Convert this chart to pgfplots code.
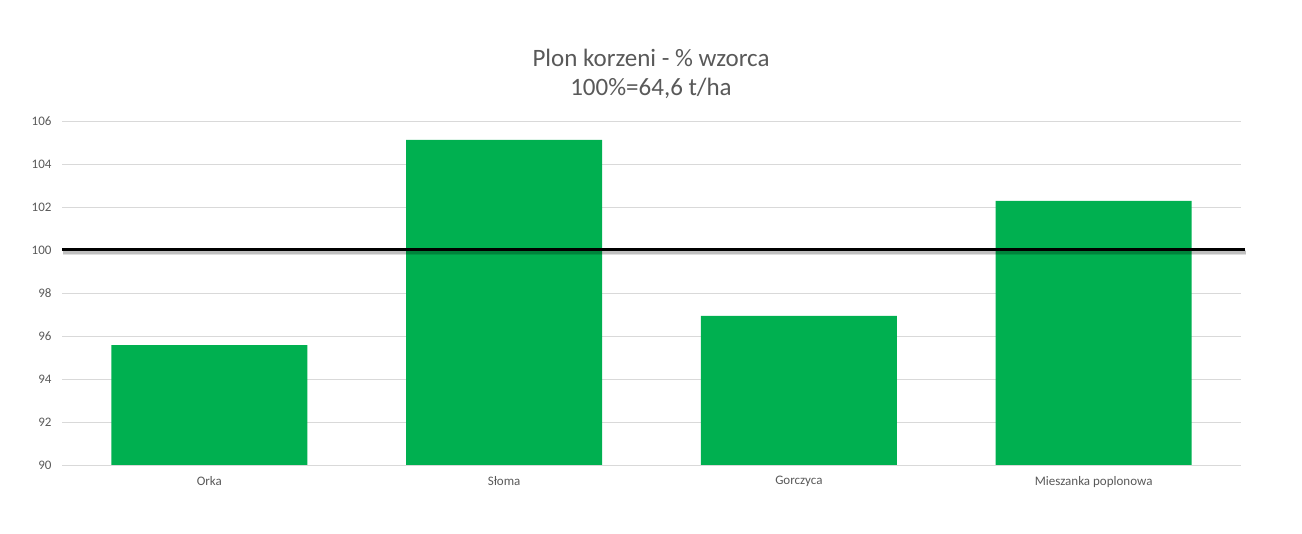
\documentclass[border=0pt]{standalone}
\usepackage{pgfplots}
\pgfplotsset{compat=1.18}
\usepackage{fontspec}
\setmainfont{Carlito}
\definecolor{barg}{HTML}{00B050}
\definecolor{txt}{HTML}{595959}
\definecolor{gridc}{HTML}{D9D9D9}
\begin{document}
\begin{tikzpicture}[x=1bp,y=1bp]
\path (0,0) rectangle (1302,534);
\begin{axis}[
    at={(62bp,69bp)}, anchor=south west,
    width=1179bp, height=344bp, scale only axis,
    xmin=-0.5, xmax=3.5,
    ymin=90, ymax=106,
    ytick={90,92,...,106},
    xtick=data,
    xticklabels={Orka, Słoma, Gorczyca, Mieszanka poplonowa},
    ymajorgrids, grid style={gridc, line width=0.75bp},
    axis line style={draw=none},
    axis x line*=bottom,
    x axis line style={gridc, line width=0.75bp},
    major tick length=0pt,
    tick style={draw=none},
    ticklabel style={font=\fontsize{13bp}{15bp}\selectfont, text=txt},
    yticklabel style={xshift=-7bp},
    xticklabel style={yshift=-8bp},
    /pgf/number format/assume math mode=true,
    clip=false,
]
\addplot[ybar, bar width=196bp, fill=barg, draw=none] coordinates {
    (0, 95.58)
    (1, 105.12)
    (2, 96.93)
    (3, 102.28)
};
% Linie 100 % mit Schatten
\addplot[black, opacity=0.12, line width=5bp, forget plot, yshift=-2.5bp, xshift=1bp] coordinates {(-0.5,100) (3.513,100)};
\addplot[black, opacity=0.15, line width=3bp, forget plot, yshift=-2.5bp, xshift=1bp] coordinates {(-0.5,100) (3.513,100)};
\addplot[black, line width=3bp, forget plot] coordinates {(-0.5,100) (3.513,100)};
\end{axis}
\node[text=txt, font=\fontsize{25bp}{30bp}\selectfont, align=center] at (651,534-58) {Plon korzeni - \% wzorca};
\node[text=txt, font=\fontsize{25bp}{30bp}\selectfont, align=center] at (651,534-88) {100\%=64,6 t/ha};
\end{tikzpicture}
\end{document}
